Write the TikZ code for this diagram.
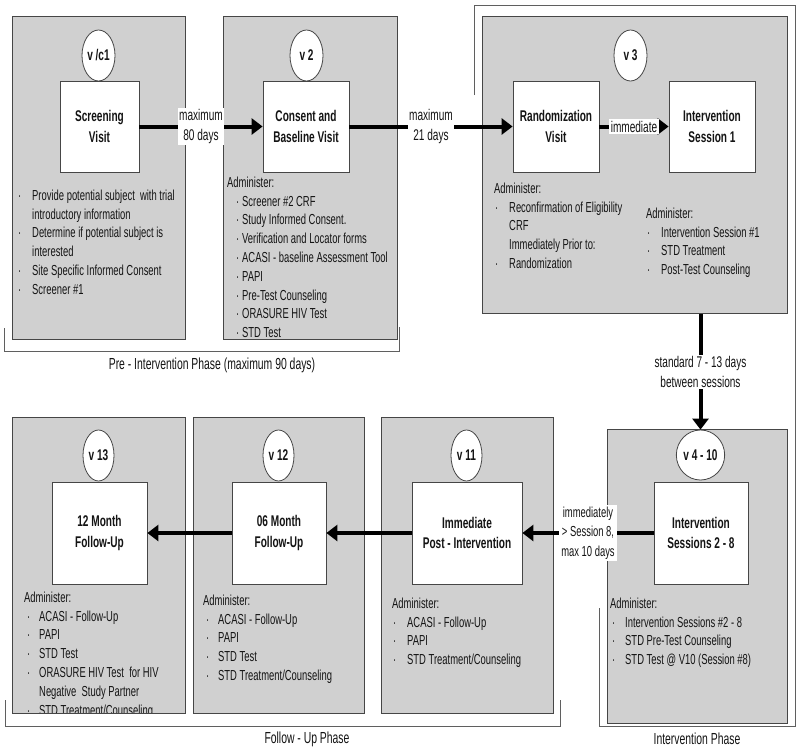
\documentclass[tikz,border=0pt]{standalone}
\usepackage{fontspec}
\setmainfont{Liberation Sans}[FakeStretch=0.65]
\usetikzlibrary{shapes.geometric,arrows.meta}
\definecolor{panelfill}{RGB}{208,208,208}
\definecolor{panelline}{RGB}{70,70,70}
\definecolor{brk}{RGB}{95,95,95}
\definecolor{txt}{RGB}{20,20,20}
\newcommand\litem[2][2pt]{\hspace*{#1}\makebox[\dimexpr15pt-#1\relax][l]{·}#2}
\newcommand\lcont[1]{\hspace*{15pt}#1}
\begin{document}
\begin{tikzpicture}[x=1pt,y=-1pt,
 panel/.style={draw=panelline, fill=panelfill, line width=0.8pt, anchor=north west, inner sep=0pt},
 visit/.style={draw=panelline, fill=white, line width=0.8pt, align=center, font=\bfseries\fontsize{15.5}{20.5}\selectfont, inner sep=0pt, text=txt},
 vlabel/.style={ellipse, draw=panelline, fill=white, line width=0.8pt, inner sep=0pt, font=\bfseries\fontsize{15.5}{17}\selectfont, text=txt},
 lst/.style={anchor=north west, align=left, inner sep=0pt, font=\fontsize{14.5}{18.8}\selectfont, text=txt},
 arr/.style={line width=4pt, -{Triangle[length=11pt,width=16pt]}},
 lab/.style={fill=white, inner sep=1.5pt, align=center, font=\fontsize{15.5}{20}\selectfont, text=txt},
 bracket/.style={draw=brk, line width=0.8pt},
 phase/.style={font=\fontsize{16}{18}\selectfont, text=txt}
]
\useasboundingbox (0,0) rectangle (800,750);
\fill[white] (0,0) rectangle (800,750);

% phase brackets
\draw[bracket] (4,328) -- (4,351) -- (399,351) -- (399,327);
\node[phase] (ph1) at (212,365) {Pre - Intervention Phase (maximum 90 days)};
\draw[bracket] (474,95) -- (474,5) -- (795,5) -- (795,726) -- (599,726) -- (599,608);
\node[phase] (ph2) at (697,739) {Intervention Phase};
\draw[bracket] (5,700) -- (5,726) -- (560,726) -- (560,700);
\node[phase] (ph3) at (307,739) {Follow - Up Phase};

% panels
\node[panel, minimum width=173pt, minimum height=323pt] (p1) at (12,16) {};
\node[panel, minimum width=174pt, minimum height=323pt] (p2) at (223,16) {};
\node[panel, minimum width=305pt, minimum height=297pt] (p3) at (482,16) {};
\node[panel, minimum width=180pt, minimum height=294pt] (p4) at (607,429) {};
\node[panel, minimum width=172pt, minimum height=296pt] (p5) at (381,417) {};
\node[panel, minimum width=171pt, minimum height=296pt] (p6) at (193,417) {};
\node[panel, minimum width=173pt, minimum height=296pt] (p7) at (12,417) {};

% visit labels
\node[vlabel, minimum width=33pt, minimum height=51pt] (e1) at (98.5,55.5) {v /c1};
\node[vlabel, minimum width=33pt, minimum height=51pt] (e2) at (306.5,55.5) {v 2};
\node[vlabel, minimum width=33pt, minimum height=51pt] (e3) at (630.5,55.5) {v 3};
\node[vlabel, minimum width=47pt, minimum height=50pt] (e4) at (700.5,455) {v 4 - 10};
\node[vlabel, minimum width=31pt, minimum height=51pt] (e5) at (466.5,455.5) {v 11};
\node[vlabel, minimum width=31pt, minimum height=51pt] (e6) at (278.5,455.5) {v 12};
\node[vlabel, minimum width=31pt, minimum height=51pt] (e7) at (98.5,455.5) {v 13};

% visit boxes
\node[visit, minimum width=79pt, minimum height=91pt] (b1) at (99.5,126.5) {Screening\\Visit};
\node[visit, minimum width=86pt, minimum height=91pt] (b2) at (306,126.5) {Consent and\\Baseline Visit};
\node[visit, minimum width=86pt, minimum height=91pt] (b3) at (556,126.5) {Randomization\\Visit};
\node[visit, minimum width=86pt, minimum height=91pt] (b4) at (712,126.5) {Intervention\\Session 1};
\node[visit, minimum width=94pt, minimum height=102pt] (b5) at (701,533) {Intervention\\Sessions 2 - 8};
\node[visit, minimum width=110pt, minimum height=102pt] (b6) at (467,533) {Immediate\\Post - Intervention};
\node[visit, minimum width=94pt, minimum height=102pt] (b7) at (279,533) {06 Month\\Follow-Up};
\node[visit, minimum width=95pt, minimum height=102pt] (b8) at (99.5,533) {12 Month\\Follow-Up};

% lists
\node[lst] (l1) at (17,189.5) {\litem[1pt]{Provide potential subject\ \ with trial}\\
 \lcont{introductory information}\\
 \litem[1pt]{Determine if potential subject is}\\
 \lcont{interested}\\
 \litem[1pt]{Site Specific Informed Consent}\\
 \litem[1pt]{Screener \#1}};
\node[lst] (l2) at (227,176.5) {Administer:\\
 \litem[9pt]{Screener \#2 CRF}\\
 \litem[9pt]{Study Informed Consent.}\\
 \litem[9pt]{Verification and Locator forms}\\
 \litem[9pt]{ACASI - baseline Assessment Tool}\\
 \litem[9pt]{PAPI}\\
 \litem[9pt]{Pre-Test Counseling}\\
 \litem[9pt]{ORASURE HIV Test}\\
 \litem[9pt]{STD Test}};
\node[lst] (l3) at (494,182.5) {Administer:\\
 \litem[1pt]{Reconfirmation of Eligibility}\\
 \lcont{CRF}\\
 \lcont{Immediately Prior to:}\\
 \litem[1pt]{Randomization}};
\node[lst] (l4) at (646,207.5) {Administer:\\
 \litem[1pt]{Intervention Session \#1}\\
 \litem[1pt]{STD Treatment}\\
 \litem[1pt]{Post-Test Counseling}};
\node[lst] (l5) at (610,597.5) {Administer:\\
 \litem[2pt]{Intervention Sessions \#2 - 8}\\
 \litem[2pt]{STD Pre-Test Counseling}\\
 \litem[2pt]{STD Test @ V10 (Session \#8)}};
\node[lst] (l6) at (392,597.5) {Administer:\\
 \litem[1pt]{ACASI - Follow-Up}\\
 \litem[1pt]{PAPI}\\
 \litem[1pt]{STD Treatment/Counseling}};
\node[lst] (l7) at (203,594.5) {Administer:\\
 \litem[3pt]{ACASI - Follow-Up}\\
 \litem[3pt]{PAPI}\\
 \litem[3pt]{STD Test}\\
 \litem[3pt]{STD Treatment/Counseling}};
\begin{scope}
\clip (p7.north west) rectangle (p7.south east);
\node[lst] (l8) at (24,591.5) {Administer:\\
 \litem[3pt]{ACASI - Follow-Up}\\
 \litem[3pt]{PAPI}\\
 \litem[3pt]{STD Test}\\
 \litem[3pt]{ORASURE HIV Test\ \ for HIV}\\
 \lcont{Negative\ \ Study Partner}\\
 \litem[3pt]{STD Treatment/Counseling}};
\end{scope}
\draw[panelline, line width=0.8pt] (p7.south west) -- (p7.south east);

% connectors
\draw[arr] (b1) -- node[lab]{maximum\\80 days} (b2);
\draw[arr] (b2) -- node[lab]{maximum\\21 days} (b3);
\draw[arr] (b3) -- node[lab]{immediate} (b4);
\draw[arr] (p3.south -| e4.north) -- node[lab]{standard 7 - 13 days\\between sessions} (e4.north);
\draw[arr] (b5) -- node[lab, font=\fontsize{14.5}{19.5}\selectfont, inner sep=2pt]{immediately\\> Session 8,\\max 10 days} (b6);
\draw[arr] (b6) -- (b7);
\draw[arr] (b7) -- (b8);
\end{tikzpicture}
\end{document}
